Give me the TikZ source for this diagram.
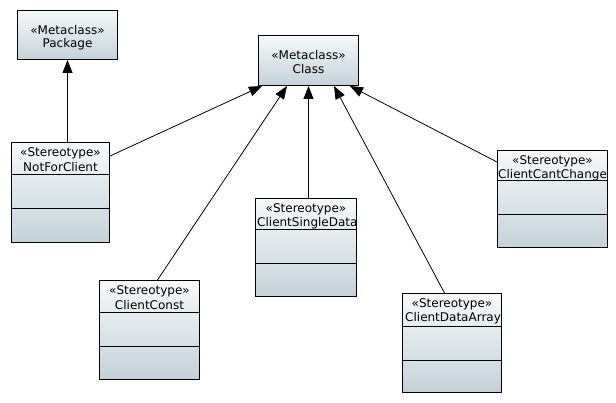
\documentclass[tikz,border=0pt]{standalone}
\usepackage{fontspec}
\setmainfont{DejaVu Sans}
\usetikzlibrary{arrows.meta,calc}
\definecolor{gtop}{HTML}{F6F9FA}
\definecolor{gbot}{HTML}{C4D2D9}
\tikzset{
  umlbox/.style={draw=black, line width=1pt, top color=gtop, bottom color=gbot,
    rectangle, inner sep=0pt, anchor=north west},
  lbl/.style={font=\fontsize{12}{14}\selectfont, inner sep=0pt, text=black},
  gen/.style={draw=black, line width=0.8pt, -{Triangle[length=13pt,width=10pt]}},
  divider/.style={draw=black, line width=1pt},
}
\begin{document}
\begin{tikzpicture}[x=1pt,y=-1pt]
\useasboundingbox (0,0) rectangle (616,403);
\fill[white] (0,0) rectangle (616,403);

% ---- boxes ----
\node[umlbox, minimum width=100pt, minimum height=49pt] (pkg) at (17,10) {};
\node[umlbox, minimum width=100pt, minimum height=50pt] (cls) at (258,35) {};
\node[umlbox, minimum width=98pt,  minimum height=100pt] (nfc) at (11,142) {};
\node[umlbox, minimum width=110pt, minimum height=97pt] (ccc) at (497,150) {};
\node[umlbox, minimum width=100pt, minimum height=99pt] (cc)  at (99,280) {};
\node[umlbox, minimum width=99pt,  minimum height=99pt] (cda) at (402,293) {};
\node[umlbox, minimum width=101pt, minimum height=98pt] (csd) at (255,198) {};

% ---- compartments ----
\draw[divider] ([yshift=-33pt]nfc.north west) -- ([yshift=-33pt]nfc.north east);
\draw[divider] ([yshift=-67pt]nfc.north west) -- ([yshift=-67pt]nfc.north east);
\draw[divider] ([yshift=-31pt]ccc.north west) -- ([yshift=-31pt]ccc.north east);
\draw[divider] ([yshift=-65pt]ccc.north west) -- ([yshift=-65pt]ccc.north east);
\draw[divider] ([yshift=-33pt]cc.north west) -- ([yshift=-33pt]cc.north east);
\draw[divider] ([yshift=-67pt]cc.north west) -- ([yshift=-67pt]cc.north east);
\draw[divider] ([yshift=-34pt]cda.north west) -- ([yshift=-34pt]cda.north east);
\draw[divider] ([yshift=-68pt]cda.north west) -- ([yshift=-68pt]cda.north east);
\draw[divider] ([yshift=-32pt]csd.north west) -- ([yshift=-32pt]csd.north east);
\draw[divider] ([yshift=-66pt]csd.north west) -- ([yshift=-66pt]csd.north east);

% ---- labels ----
\node[lbl] (pkgA) at ([yshift=-20pt]pkg.north) {«Metaclass»};
\node[lbl] (pkgB) at ([yshift=-34pt]pkg.north) {Package};
\node[lbl] (clsA) at ([yshift=-20pt]cls.north) {«Metaclass»};
\node[lbl] (clsB) at ([yshift=-34pt]cls.north) {Class};
\node[lbl] (nfcA) at ([yshift=-11pt]nfc.north) {«Stereotype»};
\node[lbl] (nfcB) at ([yshift=-25pt]nfc.north) {NotForClient};
\node[lbl] (ccA) at ([yshift=-11pt]cc.north) {«Stereotype»};
\node[lbl] (ccB) at ([yshift=-25pt]cc.north) {ClientConst};
\node[lbl] (csdA) at ([yshift=-11pt]csd.north) {«Stereotype»};
\node[lbl] (cdaA) at ([yshift=-11pt]cda.north) {«Stereotype»};
\node[lbl] (cccA) at ([yshift=-11pt]ccc.north) {«Stereotype»};
\begin{scope}
  \clip (csd.north west) rectangle (csd.south east);
  \node[lbl, anchor=west] (csdB) at ([xshift=2pt,yshift=-25pt]csd.north west) {ClientSingleData};
\end{scope}
\begin{scope}
  \clip (cda.north west) rectangle (cda.south east);
  \node[lbl, anchor=west] (cdaB) at ([xshift=3pt,yshift=-25pt]cda.north west) {ClientDataArray};
\end{scope}
\begin{scope}
  \clip (ccc.north west) rectangle (ccc.south east);
  \node[lbl, anchor=west] (cccB) at ([xshift=1pt,yshift=-25pt]ccc.north west) {ClientCantChange};
\end{scope}

% ---- generalisations ----
\draw[gen] (pkg.south |- nfc.north) -- (pkg.south);
\draw[gen] ([yshift=-14pt]nfc.north east) -- ([xshift=4pt]cls.south west);
\draw[gen] ([xshift=8pt]cc.north) -- ([xshift=29pt]cls.south west);
\draw[gen] (csd.north -| cls.south) -- (cls.south);
\draw[gen] ([xshift=-7.5pt]cda.north) -- ([xshift=-25pt]cls.south east);
\draw[gen] ([yshift=-12pt]ccc.north west) -- ([xshift=-9pt]cls.south east);
\end{tikzpicture}
\end{document}
